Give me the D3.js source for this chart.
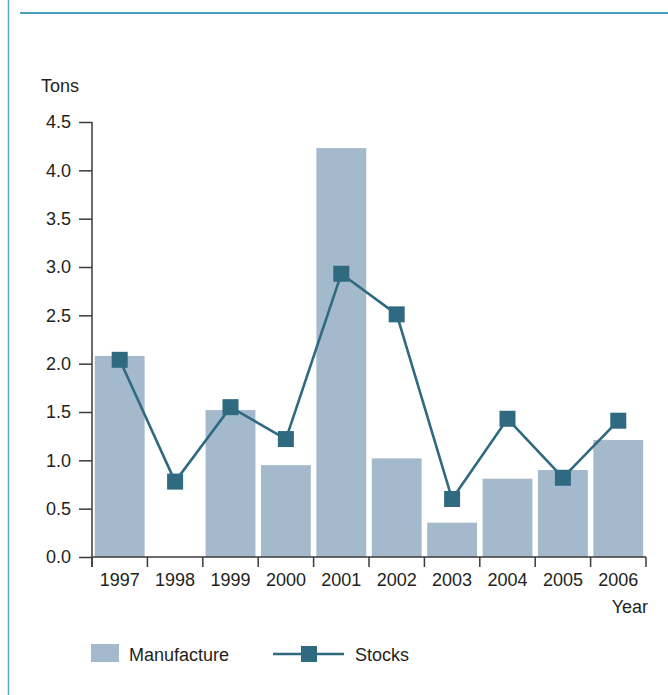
<!DOCTYPE html>
<html><head><meta charset="utf-8">
<script src="https://cdn.jsdelivr.net/npm/d3@7"></script>
<style>body{margin:0;background:#fff}svg{display:block}text{font-family:"Liberation Sans",Arial,sans-serif;fill:#231f20}</style>
</head><body>
<script>
const years = ["1997","1998","1999","2000","2001","2002","2003","2004","2005","2006"];
const manufacture = [2.08, 0, 1.52, 0.95, 4.23, 1.02, 0.355, 0.81, 0.90, 1.21];
const stocks = [2.04, 0.78, 1.55, 1.22, 2.93, 2.51, 0.60, 1.43, 0.82, 1.41];
const yTicks = [0, 0.5, 1, 1.5, 2, 2.5, 3, 3.5, 4, 4.5];

const W = 668, H = 695;
const barColor = "#a5b9cc", lineColor = "#2f6a80", axisColor = "#3a3a3a";
const fs = 18;

const svg = d3.select("body").append("svg").attr("width", W).attr("height", H);

// frame lines
svg.append("line").attr("x1", 8.5).attr("x2", 8.5).attr("y1", 0).attr("y2", H)
  .attr("stroke", "#5aa7c6").attr("stroke-width", 1.5);
svg.append("line").attr("x1", 20).attr("x2", W).attr("y1", 13).attr("y2", 13)
  .attr("stroke", "#4a9dc0").attr("stroke-width", 2);

const x = d3.scaleBand().domain(years).range([92, 646]).paddingInner(0.1).paddingOuter(0.05);
const y = d3.scaleLinear().domain([0, 4.5]).range([557, 122]);

// bars
svg.append("g").selectAll("rect").data(years).join("rect")
  .attr("x", d => x(d)).attr("width", x.bandwidth())
  .attr("y", (d, i) => y(manufacture[i])).attr("height", (d, i) => y(0) - y(manufacture[i]))
  .attr("fill", barColor);

// y axis
const yAxis = d3.axisLeft(y).tickValues(yTicks).tickFormat(d3.format(".1f")).tickSize(13).tickPadding(8).tickSizeOuter(0);
const gy = svg.append("g").attr("transform", "translate(92,0)").call(yAxis);
gy.select(".domain").attr("stroke", axisColor).attr("stroke-width", 1.5).attr("d", "M0,122V567");
gy.selectAll(".tick line").attr("stroke", axisColor).attr("stroke-width", 1.5);
gy.selectAll(".tick text").attr("font-size", fs).attr("font-family", "Liberation Sans, Arial, sans-serif").attr("fill", "#231f20");

// x axis
const boundaries = years.map(d => x(d) - x.step() * x.paddingInner() / 2);
boundaries[0] = 92; boundaries.push(646);
const gx = svg.append("g");
gx.append("line").attr("x1", 92).attr("x2", 646).attr("y1", 557).attr("y2", 557)
  .attr("stroke", axisColor).attr("stroke-width", 1.5);
gx.selectAll("line.tk").data(boundaries).join("line").attr("class", "tk")
  .attr("x1", d => d).attr("x2", d => d).attr("y1", 557).attr("y2", 567)
  .attr("stroke", axisColor).attr("stroke-width", 1.5);
gx.selectAll("text").data(years).join("text")
  .attr("x", d => x(d) + x.bandwidth() / 2).attr("y", 586)
  .attr("text-anchor", "middle").attr("font-size", fs).text(d => d);

svg.append("text").attr("x", 648).attr("y", 613).attr("text-anchor", "end").attr("font-size", fs).text("Year");
svg.append("text").attr("x", 41).attr("y", 92).attr("font-size", fs).text("Tons");

// line
const line = d3.line().x((d, i) => x(years[i]) + x.bandwidth() / 2).y(d => y(d));
svg.append("path").datum(stocks).attr("d", line).attr("fill", "none")
  .attr("stroke", lineColor).attr("stroke-width", 2.6);
const ms = 16;
svg.append("g").selectAll("rect").data(stocks).join("rect")
  .attr("x", (d, i) => x(years[i]) + x.bandwidth() / 2 - ms / 2)
  .attr("y", d => y(d) - ms / 2).attr("width", ms).attr("height", ms).attr("fill", lineColor);

// legend
const lg = svg.append("g");
lg.append("rect").attr("x", 91).attr("y", 644).attr("width", 28).attr("height", 18).attr("fill", barColor);
lg.append("text").attr("x", 129).attr("y", 661).attr("font-size", fs).text("Manufacture");
lg.append("line").attr("x1", 273).attr("x2", 344).attr("y1", 654).attr("y2", 654)
  .attr("stroke", lineColor).attr("stroke-width", 2.6);
lg.append("rect").attr("x", 301).attr("y", 646).attr("width", 16).attr("height", 16).attr("fill", lineColor);
lg.append("text").attr("x", 355).attr("y", 661).attr("font-size", fs).text("Stocks");
</script>
</body></html>
